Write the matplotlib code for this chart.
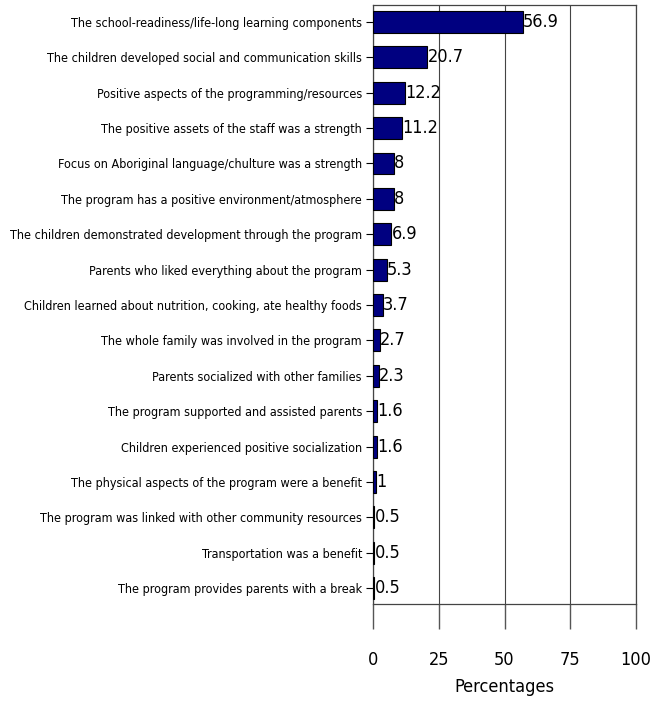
import matplotlib
matplotlib.use("Agg")
import matplotlib.pyplot as plt
from matplotlib import font_manager
from matplotlib.font_manager import FontProperties

def find_narrow():
    pref = []
    for f in font_manager.fontManager.ttflist:
        st = str(f.stretch).lower()
        nm = f.name
        cond = ("narrow" in nm.lower() or "condensed" in nm.lower() or "condensed" in st
                or (st.isdigit() and int(st) < 500))
        if cond and str(f.weight) in ("400", "normal", "regular", "book") and f.style == "normal":
            score = 0
            if "Liberation Sans Narrow" in nm:
                score = 3
            elif "DejaVu Sans" in nm:
                score = 2
            else:
                score = 1
            pref.append((score, f.fname, nm))
    pref.sort(reverse=True)
    return pref[0][1] if pref else None

fpath = find_narrow()

def fp(size):
    if fpath:
        return FontProperties(fname=fpath, size=size)
    return FontProperties(family="Liberation Sans", size=size)

categories = [
    "The school-readiness/life-long learning components",
    "The children developed social and communication skills",
    "Positive aspects of the programming/resources",
    "The positive assets of the staff was a strength",
    "Focus on Aboriginal language/chulture was a strength",
    "The program has a positive environment/atmosphere",
    "The children demonstrated development through the program",
    "Parents who liked everything about the program",
    "Children learned about nutrition, cooking, ate healthy foods",
    "The whole family was involved in the program",
    "Parents socialized with other families",
    "The program supported and assisted parents",
    "Children experienced positive socialization",
    "The physical aspects of the program were a benefit",
    "The program was linked with other community resources",
    "Transportation was a benefit",
    "The program provides parents with a break",
]
values = [56.9, 20.7, 12.2, 11.2, 8, 8, 6.9, 5.3, 3.7, 2.7, 2.3, 1.6, 1.6, 1, 0.5, 0.5, 0.5]
value_labels = ["56.9", "20.7", "12.2", "11.2", "8", "8", "6.9", "5.3", "3.7", "2.7",
                "2.3", "1.6", "1.6", "1", "0.5", "0.5", "0.5"]
xticks = [0, 25, 50, 75, 100]

fig = plt.figure(figsize=(6.63, 7.02), dpi=100)
ax = fig.add_axes([0.5626, 0.1396, 0.3967, 0.8533])

# choose label size so the longest label spans ~352 px (as in the reference)
renderer = fig.canvas.get_renderer()
longest = max(categories, key=len)
t = fig.text(0, 0, "The children demonstrated development through the program", fontproperties=fp(12))
w = t.get_window_extent(renderer).width
t.remove()
lab_size = 12 * 352.0 / w
t = fig.text(0, 0, "56.9", fontproperties=fp(16))
w2 = t.get_window_extent(renderer).width
t.remove()
val_size = min(18, 16 * 36.0 / w2)

pos = list(range(len(categories)))
ax.barh(pos, values, height=0.62, color="#000080", edgecolor="black", linewidth=0.8, zorder=3)
for p, v, lab in zip(pos, values, value_labels):
    ax.text(v + 0.1, p, lab, va="center", ha="left", fontproperties=fp(val_size), zorder=4)

ax.set_xlim(0, 100)
ax.set_ylim(len(categories) - 0.55, -0.48)
ax.set_yticks(pos)
ax.set_yticklabels(categories, fontproperties=fp(lab_size))
ax.set_xticks(xticks)
ax.set_xticklabels([str(t) for t in xticks], fontproperties=fp(val_size))
ax.tick_params(axis="y", length=5, width=0.8, pad=3)
ax.tick_params(axis="x", length=18, width=1, color="#555555", pad=16)
ax.grid(axis="x", color="#444444", linewidth=0.8, zorder=0)
for s in ax.spines.values():
    s.set_color("#444444")
    s.set_linewidth(0.9)
ax.set_xlabel("Percentages", fontproperties=fp(val_size), labelpad=6)

fig.savefig("out.png", dpi=100)
